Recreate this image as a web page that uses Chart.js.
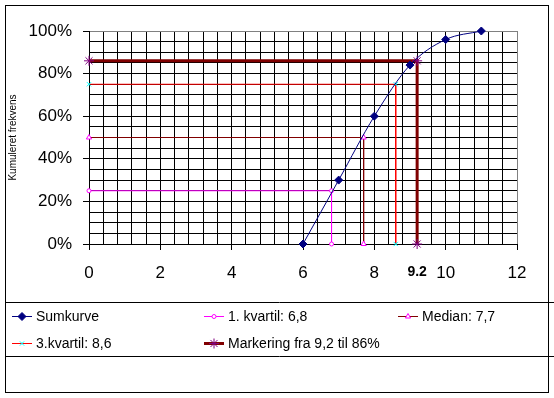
<!DOCTYPE html>
<html>
<head>
<meta charset="utf-8">
<script src="https://cdn.jsdelivr.net/npm/chart.js@4/dist/chart.umd.min.js"></script>
<style>
  html, body { margin: 0; padding: 0; background: #fff; }
  #wrap { position: relative; width: 554px; height: 398px; }
</style>
</head>
<body>
<div id="wrap"><canvas id="chart" width="554" height="398"></canvas></div>
<script>
// data
const sumX = [6, 7, 8, 9, 10, 11];
const sumY = [0, 0.30, 0.60, 0.84, 0.96, 1.00];
const q1X = [0, 6.8, 6.8];
const q1Y = [0.25, 0.25, 0];
const medX = [0, 7.7, 7.7];
const medY = [0.50, 0.50, 0];
const q3X = [0, 8.6, 8.6];
const q3Y = [0.75, 0.75, 0];
const markX = [0, 9.2, 9.2];
const markY = [0.86, 0.86, 0];
const seriesNames = ['Sumkurve', '1. kvartil: 6,8', 'Median: 7,7', '3.kvartil: 8,6', 'Markering fra 9,2 til 86%'];
const yTitle = 'Kumuleret frekvens';
const markLabel = '9.2';
const markLabelX = 9.2;

const FONT = '"Liberation Sans", Arial, sans-serif';

function toPoints(xs, ys) {
    return xs.map((x, i) => ({ x: x, y: ys[i] }));
}

function isMultiple(v, step) {
    const r = v / step;
    return Math.abs(r - Math.round(r)) < 1e-6;
}

// ramme og forklaring tegnes efter diagrammet
const framePlugin = {
    id: 'frameAndLegend',
    afterDraw(chart) {
        const ctx = chart.ctx;
        ctx.save();
        ctx.strokeStyle = '#000';
        ctx.lineWidth = 1;
        ctx.strokeRect(5.5, 5.5, 543, 387);
        ctx.beginPath();
        ctx.moveTo(5, 302.5); ctx.lineTo(554, 302.5);
        ctx.moveTo(5, 356.5); ctx.lineTo(554, 356.5);
        ctx.stroke();

        // label under 9.2
        ctx.fillStyle = '#000';
        ctx.font = 'bold 14px ' + FONT;
        ctx.textAlign = 'center';
        ctx.textBaseline = 'middle';
        ctx.fillText(markLabel, chart.scales.x.getPixelForValue(markLabelX), 272);

        // legend
        const cols = [12, 204, 398, 12, 204];
        const rows = [316, 316, 316, 343, 343];
        ctx.font = '14px ' + FONT;
        ctx.textAlign = 'left';
        chart.data.datasets.forEach((ds, i) => {
            const x0 = cols[i], y = rows[i];
            ctx.strokeStyle = ds.borderColor;
            ctx.lineWidth = ds.borderWidth;
            ctx.beginPath();
            ctx.moveTo(x0, y + 0.5);
            ctx.lineTo(x0 + 20, y + 0.5);
            ctx.stroke();
            ctx.fillStyle = ds.pointBackgroundColor;
            ctx.strokeStyle = ds.pointBorderColor;
            ctx.lineWidth = ds.pointBorderWidth;
            Chart.helpers.drawPoint(ctx, {
                pointStyle: ds.pointStyle,
                radius: ds.pointRadius,
                rotation: 0,
                borderWidth: ds.pointBorderWidth
            }, x0 + 10, y + 0.5);
            ctx.fillStyle = '#000';
            ctx.fillText(ds.label, x0 + 24, y + 1);
        });
        ctx.restore();
    }
};

new Chart(document.getElementById('chart'), {
    type: 'line',
    data: {
        datasets: [{
            label: seriesNames[0],
            data: toPoints(sumX, sumY),
            borderColor: '#000080',
            borderWidth: 1,
            pointStyle: 'rectRot',
            pointRadius: 4,
            pointBackgroundColor: '#000080',
            pointBorderColor: '#000080',
            pointBorderWidth: 1,
            cubicInterpolationMode: 'monotone'
        }, {
            label: seriesNames[1],
            data: toPoints(q1X, q1Y),
            borderColor: '#FF00FF',
            borderWidth: 1,
            pointStyle: 'circle',
            pointRadius: 2,
            pointBackgroundColor: '#FFFFFF',
            pointBorderColor: '#FF00FF',
            pointBorderWidth: 1
        }, {
            label: seriesNames[2],
            data: toPoints(medX, medY),
            borderColor: '#800000',
            borderWidth: 1,
            pointStyle: 'triangle',
            pointRadius: 3,
            pointBackgroundColor: '#FFFFFF',
            pointBorderColor: '#FF00FF',
            pointBorderWidth: 1
        }, {
            label: seriesNames[3],
            data: toPoints(q3X, q3Y),
            borderColor: '#FF0000',
            borderWidth: 1,
            pointStyle: 'crossRot',
            pointRadius: 3,
            pointBackgroundColor: '#00FFFF',
            pointBorderColor: '#00FFFF',
            pointBorderWidth: 1
        }, {
            label: seriesNames[4],
            data: toPoints(markX, markY),
            borderColor: '#800000',
            borderWidth: 3,
            pointStyle: 'star',
            pointRadius: 5,
            pointBackgroundColor: '#800080',
            pointBorderColor: '#800080',
            pointBorderWidth: 1
        }]
    },
    options: {
        responsive: false,
        animation: false,
        clip: false,
        layout: {
            padding: { left: 0, top: 31, right: 37, bottom: 114 }
        },
        plugins: {
            legend: { display: false },
            tooltip: { enabled: false }
        },
        scales: {
            x: {
                type: 'linear',
                min: 0,
                max: 12,
                afterFit: function(scale) { scale.height = 40; },
                ticks: {
                    stepSize: 0.4,
                    autoSkip: false,
                    maxRotation: 0,
                    padding: 13,
                    color: '#000',
                    font: { family: FONT, size: 17 },
                    callback: function(value) {
                        return isMultiple(value, 2) ? String(Math.round(value)) : '';
                    }
                },
                grid: {
                    lineWidth: 1,
                    tickLength: 6,
                    color: function(ctx) {
                        return ctx.tick && Math.abs(ctx.tick.value - 12) < 1e-6 ? '#808080' : '#000';
                    },
                    tickColor: function(ctx) {
                        return ctx.tick && isMultiple(ctx.tick.value, 2) ? '#000' : 'rgba(0,0,0,0)';
                    }
                },
                border: { color: '#000', width: 1 }
            },
            y: {
                min: 0,
                max: 1,
                afterFit: function(scale) { scale.width = 89; },
                ticks: {
                    stepSize: 0.05,
                    autoSkip: false,
                    padding: 11,
                    color: '#000',
                    font: { family: FONT, size: 17 },
                    callback: function(value) {
                        return isMultiple(value, 0.2) ? Math.round(value * 100) + '%' : '';
                    }
                },
                title: {
                    display: true,
                    text: yTitle,
                    color: '#000',
                    padding: 7,
                    font: { family: FONT, size: 10 }
                },
                grid: {
                    lineWidth: 1,
                    tickLength: 6,
                    color: function(ctx) {
                        return ctx.tick && Math.abs(ctx.tick.value - 1) < 1e-6 ? '#808080' : '#000';
                    },
                    tickColor: function(ctx) {
                        return ctx.tick && isMultiple(ctx.tick.value, 0.2) ? '#000' : 'rgba(0,0,0,0)';
                    }
                },
                border: { color: '#000', width: 1 }
            }
        }
    },
    plugins: [framePlugin]
});
</script>
</body>
</html>
